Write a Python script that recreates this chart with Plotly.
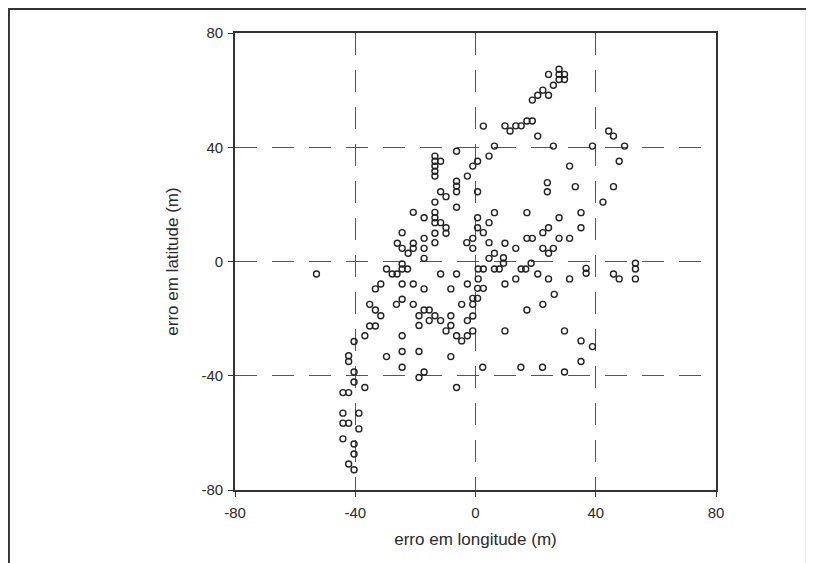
import plotly.graph_objects as go

# erro em longitude (m)
lon_err = [
    24.3, 27.8, 29.6, 27.8, 29.6, 27.8, 25.9, 24.3, 22.4, 20.7, 18.9,
    2.6, 9.8, 11.5, 13.4, 15.2, 17.1, 18.9, 20.7, 6.3, 25.9, 38.9, 49.6,
    44.3, 45.9, 47.8, 45.9, 42.4, 31.3, 33.2, 23.9, 23.9, 4.5, 0.7, -0.9,
    0.7, 6.3, 17.1, 35.1, 27.8, 35.1, 0.7, 4.5, 0.7, 2.6, -0.9, -0.9, 4.5,
    9.8, 13.4, 17.1, 18.9, 22.4, 24.3, 22.4, 24.3, 25.9, 27.8, 31.3, 4.5,
    6.3, 9.3, 9.3, 18.5, 15.2, 16.7, 6.3, 7.9, 0.9, 2.6, 0.9, 2.6, 0.7,
    0.7, -0.9, -0.9, -0.9, -0.9, 9.8, 13.4, 20.7, 24.3, 31.3, 26.2, 22.4,
    17.1, 9.8, 29.6, 35.1, 38.9, 35.1, 2.4, 15.1, 22.3, 29.6, 36.8, 36.8,
    45.9, 47.8, 53.2, 53.2, 53.2,
    -6.3, -13.5, -13.5, -13.5, -13.5, -13.5, -11.6, -2.7, -6.3, -6.3, -6.3,
    -11.6, -9.8, -13.5, -6.3, -20.7, -13.5, -17.1, -13.5, -13.5, -11.6,
    -9.8, -9.8, -13.5, -24.4, -17.1, -26.0, -24.4, -20.7, -20.7, -22.4,
    -17.1, -17.1, -13.5, -2.9,
    -52.9, -29.6, -27.7, -26.1, -24.4, -24.4, -22.6, -11.6, -6.3, -2.7,
    -33.3, -31.5, -24.4, -20.7, -17.1, -8.2, -35.2, -33.3, -31.5, -26.3,
    -24.4, -20.7, -18.8, -17.1, -15.4, -15.4, -13.5, -11.6, -18.8, -8.2,
    -8.2, -9.8, -4.6, -2.7, -2.7, -4.6, -6.3, -35.2, -33.3, -36.8, -24.4,
    -40.4, -24.4, -18.8, -29.6, -8.2, -42.2, -42.2, -24.4, -17.1, -18.8,
    -6.3, -40.4, -40.4, -36.8, -44.1, -42.2, -44.1, -38.8, -44.1, -42.2,
    -38.8, -44.1, -40.4, -40.4, -42.2, -40.4,
]

# erro em latitude (m)
lat_err = [
    65.5, 67.3, 65.5, 65.5, 63.7, 63.7, 61.7, 58.2, 60.0, 58.2, 56.5,
    47.4, 47.5, 45.7, 47.5, 47.5, 49.2, 49.2, 43.9, 40.4, 40.4, 40.4, 40.4,
    45.7, 43.9, 35.1, 26.2, 20.8, 33.4, 26.2, 27.6, 24.4, 36.9, 35.1, 33.4,
    24.4, 17.1, 17.1, 17.1, 15.3, 11.8, 15.3, 13.6, 11.8, 10.1, 8.1, 4.6, 6.6,
    6.4, 4.6, 8.1, 8.1, 10.1, 11.8, 4.6, 2.9, 4.6, 8.1, 8.1, 1.1,
    2.9, 1.3, -0.6, -0.6, -2.6, -2.6, -2.6, -2.6, -2.6, -2.6, -6.1, -9.4, -9.4,
    -12.9, -12.9, -15.0, -19.1, -24.3, -7.9, -6.1, -4.4, -6.1, -6.1, -11.5, -15.0,
    -17.0, -24.3, -24.3, -27.8, -29.8, -35.0, -37.0, -37.0, -37.0, -38.7, -2.4, -4.1,
    -4.4, -6.1, -0.6, -2.6, -6.1,
    38.6, 36.9, 35.1, 33.4, 31.6, 29.9, 35.1, 29.9, 28.1, 26.4, 24.4,
    24.4, 22.7, 20.8, 19.0, 17.2, 17.2, 15.3, 15.3, 13.6, 13.6,
    11.8, 9.9, 9.9, 10.1, 8.1, 6.4, 4.6, 6.4, 4.6, 2.9,
    4.6, 1.1, 6.6, 6.6,
    -4.4, -2.6, -4.4, -4.4, -2.6, -0.9, -2.6, -4.4, -4.4, -7.9,
    -9.6, -7.9, -7.9, -7.9, -9.6, -9.6, -15.0, -17.0, -19.0, -15.0,
    -13.2, -15.0, -19.0, -17.0, -17.0, -20.7, -19.0, -20.7, -22.4, -19.0,
    -22.4, -24.3, -15.0, -20.7, -26.0, -27.8, -26.0, -22.6, -22.6, -26.0, -26.0,
    -28.0, -31.5, -31.5, -33.3, -33.3, -33.0, -35.0, -37.0, -38.7, -40.6,
    -44.1, -38.7, -42.2, -44.1, -45.9, -45.9, -53.1, -53.1, -56.6, -56.6,
    -58.6, -62.1, -63.9, -67.4, -70.9, -72.9,
]

tick_vals = [-80, -40, 0, 40, 80]
tick_text = ["-80", "-40", "0", "40", "80"]

FONT = "Liberation Sans, Arial, sans-serif"

fig = go.Figure()
fig.add_trace(go.Scatter(
    x=lon_err, y=lat_err, mode="markers",
    marker=dict(symbol="circle-open", size=6, color="#222222",
                line=dict(width=1.4, color="#222222")),
    showlegend=False, hoverinfo="skip",
))

axis_common = dict(
    range=[-80, 80], tickvals=tick_vals, ticktext=tick_text,
    showline=True, linecolor="#333333", linewidth=1.6, mirror=True,
    ticks="outside", ticklen=5, tickwidth=1, tickcolor="#333333",
    showgrid=True, gridcolor="#555555", gridwidth=1, griddash="22px,15px",
    zeroline=False,
    tickfont=dict(family=FONT, size=15, color="#2a2a2a"),
    automargin=False,
)

fig.update_xaxes(**axis_common, ticklabelstandoff=3,
                 title=dict(text="erro em longitude (m)", standoff=13,
                            font=dict(family=FONT, size=17, color="#2a2a2a")))
fig.update_yaxes(**axis_common, ticklabelstandoff=2,
                 title=dict(text="erro em latitude (m)", standoff=19,
                            font=dict(family=FONT, size=17, color="#2a2a2a")))

fig.update_layout(
    width=806, height=555,
    margin=dict(l=227, r=98, t=25, b=73),
    paper_bgcolor="white", plot_bgcolor="white",
    shapes=[dict(type="rect", xref="paper", yref="paper",
                 x0=-0.470, x1=1.189, y0=-0.2, y1=1.0525,
                 line=dict(color="#333333", width=2), layer="below")],
)

fig.write_html("out.html")
